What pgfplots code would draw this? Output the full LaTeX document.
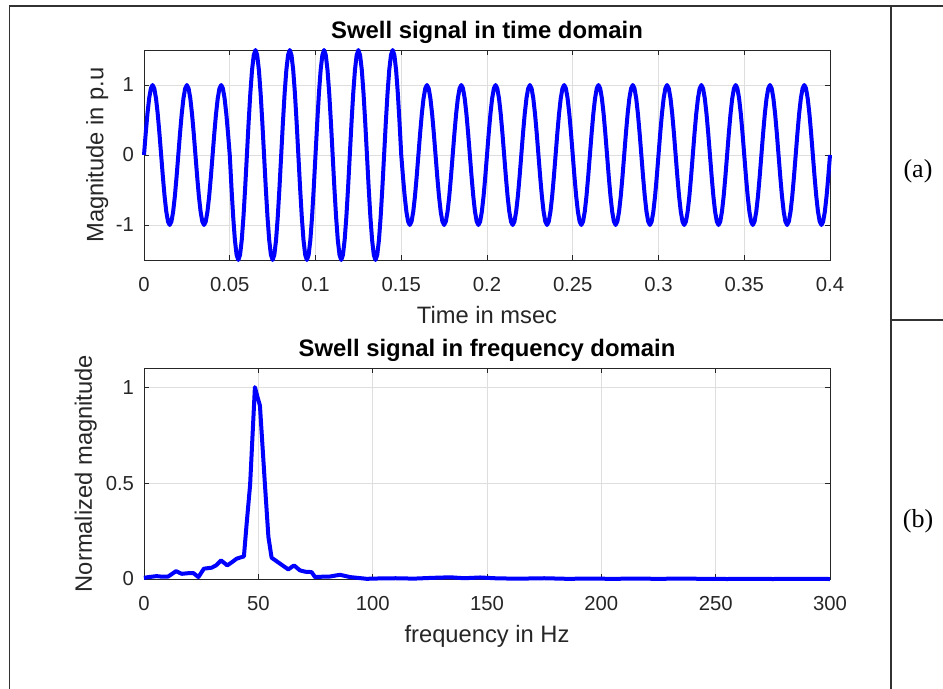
\documentclass[border=0pt]{standalone}
\usepackage{fontspec}
\setmainfont{Liberation Sans}
\newfontfamily\timesfont{Liberation Serif}
\usepackage{pgfplots}
\pgfplotsset{compat=1.18}
\definecolor{axgray}{RGB}{38,38,38}
\definecolor{gridgray}{RGB}{222,222,222}
\definecolor{framegray}{RGB}{50,50,50}
\pgfplotsset{
 myaxis/.style={
  scale only axis, width=514.5pt,
  axis line style={axgray, line width=0.6pt},
  tick style={axgray, line width=0.6pt},
  major tick length=4pt, tick align=inside, tick pos=both,
  grid=major, grid style={gridgray, line width=0.6pt},
  ticklabel style={font=\fontsize{15.2}{18}\selectfont, text=axgray},
  xticklabel style={anchor=base, yshift=-23.3pt},
  yticklabel style={anchor=east, xshift=-4pt},
  every axis title/.style={at={(0.5,1)}, anchor=base, yshift=9pt, font=\bfseries\fontsize{17.9}{21}\selectfont},
  every axis x label/.style={at={(0.5,0)}, anchor=base, yshift=-47.7pt, font=\fontsize{17.8}{21}\selectfont, text=axgray},
  clip=false, scaled ticks=false,
 }
}
\begin{document}
\begin{tikzpicture}
\path[use as bounding box] (0,0) rectangle (707.25pt,-516.75pt);
\draw[framegray, line width=1pt] (7pt,-516.75pt) -- (7pt,-4.5pt) -- (707.25pt,-4.5pt);
\draw[framegray, line width=1pt] (668.25pt,-4.5pt) -- (668.25pt,-516.75pt);
\draw[framegray, line width=1pt] (668.25pt,-240pt) -- (707.25pt,-240pt);
\node[anchor=base, font=\timesfont\fontsize{19.5}{22}\selectfont] at (688.5pt,-132.75pt) {(a)};
\node[anchor=base, font=\timesfont\fontsize{19.5}{22}\selectfont] at (688.5pt,-395.25pt) {(b)};

\begin{axis}[myaxis, at={(108pt,-195pt)}, anchor=south west, height=157.5pt,
  xmin=0, xmax=0.4, ymin=-1.5, ymax=1.5,
  xtick={0,0.05,0.1,0.15,0.2,0.25,0.3,0.35,0.4},
  xticklabels={0,0.05,0.1,0.15,0.2,0.25,0.3,0.35,0.4},
  ytick={-1,0,1}, yticklabels={-1,0,1},
  title={Swell signal in time domain},
  xlabel={Time in msec},
  ylabel={Magnitude in p.u},
  every axis y label/.style={at={(-0.0593,0.5)}, rotate=90, anchor=base, font=\fontsize{17.8}{21}\selectfont, text=axgray},
]
\addplot[color={rgb,1:red,0;green,0;blue,1}, line width=3pt, line join=round] coordinates {
(0.000,0)(0.001,0.309)(0.002,0.588)(0.003,0.809)(0.004,0.951)(0.005,1)(0.006,0.951)(0.007,0.809)(0.008,0.588)(0.009,0.309)(0.010,0)(0.011,-0.309)(0.012,-0.588)(0.013,-0.809)(0.014,-0.951)(0.015,-1)(0.016,-0.951)(0.017,-0.809)(0.018,-0.588)(0.019,-0.309)
(0.020,0)(0.021,0.309)(0.022,0.588)(0.023,0.809)(0.024,0.951)(0.025,1)(0.026,0.951)(0.027,0.809)(0.028,0.588)(0.029,0.309)(0.030,0)(0.031,-0.309)(0.032,-0.588)(0.033,-0.809)(0.034,-0.951)(0.035,-1)(0.036,-0.951)(0.037,-0.809)(0.038,-0.588)(0.039,-0.309)
(0.040,0)(0.041,0.309)(0.042,0.588)(0.043,0.809)(0.044,0.951)(0.045,1)(0.046,0.951)(0.047,0.809)(0.048,0.588)(0.049,0.309)(0.050,0)(0.051,-0.464)(0.052,-0.882)(0.053,-1.214)(0.054,-1.427)(0.055,-1.5)(0.056,-1.427)(0.057,-1.214)(0.058,-0.882)(0.059,-0.464)
(0.060,0)(0.061,0.464)(0.062,0.882)(0.063,1.214)(0.064,1.427)(0.065,1.5)(0.066,1.427)(0.067,1.214)(0.068,0.882)(0.069,0.464)(0.070,0)(0.071,-0.464)(0.072,-0.882)(0.073,-1.214)(0.074,-1.427)(0.075,-1.5)(0.076,-1.427)(0.077,-1.214)(0.078,-0.882)(0.079,-0.464)
(0.080,0)(0.081,0.464)(0.082,0.882)(0.083,1.214)(0.084,1.427)(0.085,1.5)(0.086,1.427)(0.087,1.214)(0.088,0.882)(0.089,0.464)(0.090,0)(0.091,-0.464)(0.092,-0.882)(0.093,-1.214)(0.094,-1.427)(0.095,-1.5)(0.096,-1.427)(0.097,-1.214)(0.098,-0.882)(0.099,-0.464)
(0.100,0)(0.101,0.464)(0.102,0.882)(0.103,1.214)(0.104,1.427)(0.105,1.5)(0.106,1.427)(0.107,1.214)(0.108,0.882)(0.109,0.464)(0.110,0)(0.111,-0.464)(0.112,-0.882)(0.113,-1.214)(0.114,-1.427)(0.115,-1.5)(0.116,-1.427)(0.117,-1.214)(0.118,-0.882)(0.119,-0.464)
(0.120,0)(0.121,0.464)(0.122,0.882)(0.123,1.214)(0.124,1.427)(0.125,1.5)(0.126,1.427)(0.127,1.214)(0.128,0.882)(0.129,0.464)(0.130,0)(0.131,-0.464)(0.132,-0.882)(0.133,-1.214)(0.134,-1.427)(0.135,-1.5)(0.136,-1.427)(0.137,-1.214)(0.138,-0.882)(0.139,-0.464)
(0.140,0)(0.141,0.464)(0.142,0.882)(0.143,1.214)(0.144,1.427)(0.145,1.5)(0.146,1.427)(0.147,1.214)(0.148,0.882)(0.149,0.464)(0.150,0)(0.151,-0.309)(0.152,-0.588)(0.153,-0.809)(0.154,-0.951)(0.155,-1)(0.156,-0.951)(0.157,-0.809)(0.158,-0.588)(0.159,-0.309)
(0.160,0)(0.161,0.309)(0.162,0.588)(0.163,0.809)(0.164,0.951)(0.165,1)(0.166,0.951)(0.167,0.809)(0.168,0.588)(0.169,0.309)(0.170,0)(0.171,-0.309)(0.172,-0.588)(0.173,-0.809)(0.174,-0.951)(0.175,-1)(0.176,-0.951)(0.177,-0.809)(0.178,-0.588)(0.179,-0.309)
(0.180,0)(0.181,0.309)(0.182,0.588)(0.183,0.809)(0.184,0.951)(0.185,1)(0.186,0.951)(0.187,0.809)(0.188,0.588)(0.189,0.309)(0.190,0)(0.191,-0.309)(0.192,-0.588)(0.193,-0.809)(0.194,-0.951)(0.195,-1)(0.196,-0.951)(0.197,-0.809)(0.198,-0.588)(0.199,-0.309)
(0.200,0)(0.201,0.309)(0.202,0.588)(0.203,0.809)(0.204,0.951)(0.205,1)(0.206,0.951)(0.207,0.809)(0.208,0.588)(0.209,0.309)(0.210,0)(0.211,-0.309)(0.212,-0.588)(0.213,-0.809)(0.214,-0.951)(0.215,-1)(0.216,-0.951)(0.217,-0.809)(0.218,-0.588)(0.219,-0.309)
(0.220,0)(0.221,0.309)(0.222,0.588)(0.223,0.809)(0.224,0.951)(0.225,1)(0.226,0.951)(0.227,0.809)(0.228,0.588)(0.229,0.309)(0.230,0)(0.231,-0.309)(0.232,-0.588)(0.233,-0.809)(0.234,-0.951)(0.235,-1)(0.236,-0.951)(0.237,-0.809)(0.238,-0.588)(0.239,-0.309)
(0.240,0)(0.241,0.309)(0.242,0.588)(0.243,0.809)(0.244,0.951)(0.245,1)(0.246,0.951)(0.247,0.809)(0.248,0.588)(0.249,0.309)(0.250,0)(0.251,-0.309)(0.252,-0.588)(0.253,-0.809)(0.254,-0.951)(0.255,-1)(0.256,-0.951)(0.257,-0.809)(0.258,-0.588)(0.259,-0.309)
(0.260,0)(0.261,0.309)(0.262,0.588)(0.263,0.809)(0.264,0.951)(0.265,1)(0.266,0.951)(0.267,0.809)(0.268,0.588)(0.269,0.309)(0.270,0)(0.271,-0.309)(0.272,-0.588)(0.273,-0.809)(0.274,-0.951)(0.275,-1)(0.276,-0.951)(0.277,-0.809)(0.278,-0.588)(0.279,-0.309)
(0.280,0)(0.281,0.309)(0.282,0.588)(0.283,0.809)(0.284,0.951)(0.285,1)(0.286,0.951)(0.287,0.809)(0.288,0.588)(0.289,0.309)(0.290,0)(0.291,-0.309)(0.292,-0.588)(0.293,-0.809)(0.294,-0.951)(0.295,-1)(0.296,-0.951)(0.297,-0.809)(0.298,-0.588)(0.299,-0.309)
(0.300,0)(0.301,0.309)(0.302,0.588)(0.303,0.809)(0.304,0.951)(0.305,1)(0.306,0.951)(0.307,0.809)(0.308,0.588)(0.309,0.309)(0.310,0)(0.311,-0.309)(0.312,-0.588)(0.313,-0.809)(0.314,-0.951)(0.315,-1)(0.316,-0.951)(0.317,-0.809)(0.318,-0.588)(0.319,-0.309)
(0.320,0)(0.321,0.309)(0.322,0.588)(0.323,0.809)(0.324,0.951)(0.325,1)(0.326,0.951)(0.327,0.809)(0.328,0.588)(0.329,0.309)(0.330,0)(0.331,-0.309)(0.332,-0.588)(0.333,-0.809)(0.334,-0.951)(0.335,-1)(0.336,-0.951)(0.337,-0.809)(0.338,-0.588)(0.339,-0.309)
(0.340,0)(0.341,0.309)(0.342,0.588)(0.343,0.809)(0.344,0.951)(0.345,1)(0.346,0.951)(0.347,0.809)(0.348,0.588)(0.349,0.309)(0.350,0)(0.351,-0.309)(0.352,-0.588)(0.353,-0.809)(0.354,-0.951)(0.355,-1)(0.356,-0.951)(0.357,-0.809)(0.358,-0.588)(0.359,-0.309)
(0.360,0)(0.361,0.309)(0.362,0.588)(0.363,0.809)(0.364,0.951)(0.365,1)(0.366,0.951)(0.367,0.809)(0.368,0.588)(0.369,0.309)(0.370,0)(0.371,-0.309)(0.372,-0.588)(0.373,-0.809)(0.374,-0.951)(0.375,-1)(0.376,-0.951)(0.377,-0.809)(0.378,-0.588)(0.379,-0.309)
(0.380,0)(0.381,0.309)(0.382,0.588)(0.383,0.809)(0.384,0.951)(0.385,1)(0.386,0.951)(0.387,0.809)(0.388,0.588)(0.389,0.309)(0.390,0)(0.391,-0.309)(0.392,-0.588)(0.393,-0.809)(0.394,-0.951)(0.395,-1)(0.396,-0.951)(0.397,-0.809)(0.398,-0.588)(0.399,-0.309)
(0.400,0)
};
\end{axis}

\begin{axis}[myaxis, at={(108pt,-434.25pt)}, anchor=south west, height=158.25pt,
  xmin=0, xmax=300, ymin=0, ymax=1.1,
  xtick={0,50,100,150,200,250,300},
  xticklabels={0,50,100,150,200,250,300},
  ytick={0,0.5,1}, yticklabels={0,0.5,1},
  title={Swell signal in frequency domain},
  xlabel={frequency in Hz},
  ylabel={Normalized magnitude},
  every axis y label/.style={at={(-0.0758,0.5)}, rotate=90, anchor=base, font=\fontsize{17.8}{21}\selectfont, text=axgray},
]
\addplot[color={rgb,1:red,0;green,0;blue,1}, line width=3pt, line join=round] coordinates {
(0,0.006)(2,0.01)(5.5,0.015)(8,0.012)(10.6,0.013)(14,0.041)(16.5,0.027)(19,0.03)(21.6,0.031)(23.8,0.01)(26.2,0.054)(29.6,0.059)(31.5,0.071)(33.7,0.097)(36.4,0.071)(38.5,0.088)(40.5,0.106)(43.7,0.118)(44.9,0.29)(46.4,0.49)(48.5,1.0)(49.6,0.95)(50.7,0.904)(52.9,0.49)(54.4,0.22)(55.8,0.111)(59.5,0.08)(63.1,0.05)(65.6,0.071)(68.2,0.045)(70.5,0.038)(73.3,0.036)(74.8,0.01)(78,0.012)(81.3,0.013)(85.7,0.022)(90.1,0.01)(97.4,0.001)(103.2,0.003)(110,0.004)(118,0.002)(126,0.006)(134,0.009)(140,0.004)(147,0.008)(155,0.003)(165,0.002)(175,0.004)(185,0.001)(195,0.002)(205,0.001)(215,0.002)(225,0.001)(235,0.002)(245,0.001)(255,0)(265,0.001)(275,0)(285,0.001)(300,0)
};
\end{axis}
\end{tikzpicture}
\end{document}
